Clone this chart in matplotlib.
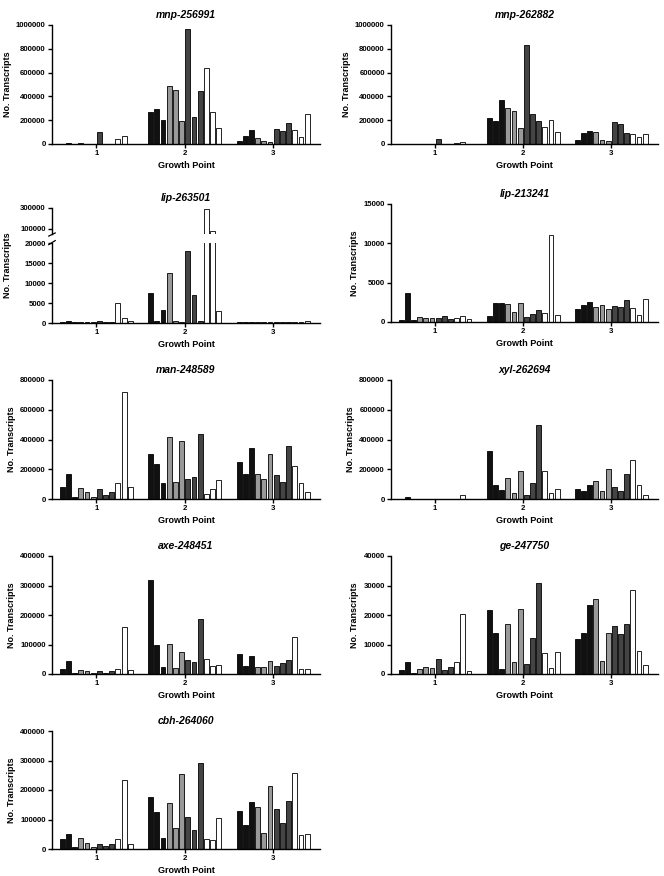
import matplotlib
matplotlib.use("Agg")
import matplotlib.pyplot as plt
import numpy as np

plt.rcParams['font.family'] = ['Liberation Sans', 'DejaVu Sans']
plt.rcParams['font.weight'] = 'bold'

W, H = 664, 876

groups = [1, 2, 3]
bar_colors = ['#111111'] * 3 + ['#999999'] * 3 + ['#444444'] * 3 + ['#ffffff'] * 3

# values: per gene, 3 growth points x 12 bars
mnp_256991 = [
    [2000, 12000, 0, 8000, 0, 3000, 100000, 4000, 0, 45000, 70000, 0],
    [265000, 290000, 200000, 490000, 450000, 195000, 970000, 230000, 445000, 640000, 270000, 135000],
    [22000, 70000, 120000, 50000, 25000, 15000, 130000, 110000, 175000, 120000, 60000, 255000],
]
mnp_262882 = [
    [0, 0, 0, 0, 0, 0, 38000, 0, 0, 8000, 15000, 0],
    [220000, 190000, 370000, 300000, 280000, 135000, 835000, 255000, 195000, 145000, 205000, 100000],
    [35000, 95000, 110000, 105000, 30000, 25000, 185000, 170000, 95000, 80000, 55000, 85000],
]
lip_263501 = [
    [200, 400, 300, 300, 200, 200, 400, 300, 200, 5000, 1300, 400],
    [7500, 400, 3200, 12600, 400, 200, 18000, 7000, 400, 290000, 80000, 3000],
    [200, 300, 300, 200, 200, 200, 200, 200, 300, 200, 200, 400],
]
lip_213241 = [
    [300, 3700, 300, 600, 450, 500, 500, 700, 350, 500, 700, 350],
    [800, 2400, 2400, 2300, 1300, 2400, 600, 1000, 1500, 1200, 11000, 900],
    [1600, 2200, 2600, 1900, 2100, 1700, 2000, 1900, 2800, 1800, 900, 2900],
]
man_248589 = [
    [80000, 165000, 12000, 75000, 48000, 15000, 70000, 25000, 45000, 110000, 720000, 80000],
    [300000, 235000, 110000, 420000, 115000, 390000, 135000, 150000, 440000, 35000, 65000, 130000],
    [250000, 165000, 345000, 165000, 135000, 305000, 160000, 115000, 355000, 220000, 110000, 50000],
]
xyl_262694 = [
    [3000, 12000, 0, 2000, 2000, 0, 0, 0, 0, 3000, 30000, 0],
    [325000, 95000, 60000, 140000, 40000, 190000, 30000, 110000, 495000, 190000, 40000, 70000],
    [70000, 55000, 95000, 120000, 55000, 200000, 80000, 55000, 170000, 265000, 95000, 30000],
]
axe_248451 = [
    [18000, 43000, 3000, 15000, 10000, 3000, 10000, 3000, 10000, 18000, 158000, 15000],
    [320000, 97000, 23000, 102000, 20000, 76000, 47000, 42000, 185000, 50000, 27000, 30000],
    [68000, 28000, 62000, 24000, 24000, 43000, 28000, 36000, 46000, 127000, 18000, 17000],
]
ge_247750 = [
    [1500, 4200, 300, 1700, 2300, 2000, 5000, 1500, 2500, 4000, 20500, 900],
    [21700, 14000, 1700, 16800, 4200, 22000, 3500, 12300, 31000, 7000, 2100, 7500],
    [12000, 13800, 23300, 25300, 4300, 13800, 16200, 13700, 17000, 28500, 7800, 3100],
]
cbh_264060 = [
    [33000, 50000, 7000, 37000, 21000, 6000, 17000, 10000, 16000, 34000, 235000, 17000],
    [177000, 126000, 38000, 157000, 70000, 253000, 110000, 65000, 292000, 33000, 30000, 105000],
    [130000, 82000, 158000, 141000, 55000, 214000, 137000, 88000, 162000, 256000, 48000, 52000],
]

panels = [
    ('mnp-256991', mnp_256991, 1000000, 200000, 0, 0),
    ('mnp-262882', mnp_262882, 1000000, 200000, 0, 1),
    ('lip-213241', lip_213241, 15000, 5000, 1, 1),
    ('man-248589', man_248589, 800000, 200000, 2, 0),
    ('xyl-262694', xyl_262694, 800000, 200000, 2, 1),
    ('axe-248451', axe_248451, 400000, 100000, 3, 0),
    ('ge-247750', ge_247750, 40000, 10000, 3, 1),
    ('cbh-264060', cbh_264060, 400000, 100000, 4, 0),
]

col_x = [(52, 320), (391, 658)]
row_y = [(25, 144), (204, 322), (380, 499), (556, 674), (731, 849)]

step = 0.07
width = 0.055
offsets = (np.arange(12) - 5.5) * step


def px_axes(x0, x1, y0, y1):
    return fig.add_axes([x0 / W, 1 - y1 / H, (x1 - x0) / W, (y1 - y0) / H])


def style(ax):
    for s in ['top', 'right']:
        ax.spines[s].set_visible(False)
    for s in ['left', 'bottom']:
        ax.spines[s].set_linewidth(1.0)
    ax.tick_params(axis='both', length=3, width=1.0, labelsize=5.6, pad=1.5)
    for lab in ax.get_yticklabels() + ax.get_xticklabels():
        lab.set_fontweight('bold')


def draw_bars(ax, data):
    for g, vals in zip(groups, data):
        ax.bar(g + offsets, vals, width=width, color=bar_colors,
               edgecolor='black', linewidth=0.6)
    ax.set_xlim(0.5, 3.53)


fig = plt.figure(figsize=(W / 100, H / 100), dpi=100)

for name, data, ymax, ystep, r, c in panels:
    x0, x1 = col_x[c]
    y0, y1 = row_y[r]
    ax = px_axes(x0, x1, y0, y1)
    draw_bars(ax, data)
    ax.set_ylim(0, ymax)
    ax.set_yticks(np.arange(0, ymax + 1, ystep))
    ax.set_yticklabels([str(int(v)) for v in np.arange(0, ymax + 1, ystep)])
    ax.set_xticks(groups)
    style(ax)
    ax.set_title(name, fontsize=7.5, fontstyle='italic', fontweight='bold', pad=5)
    ax.set_xlabel('Growth Point', fontsize=6.5, fontweight='bold', labelpad=3)
    ax.set_ylabel('No. Transcripts', fontsize=6.5, fontweight='bold', labelpad=3)

# lip-263501 with a broken y axis
x0, x1 = col_x[0]
ax_lo = px_axes(x0, x1, 243, 323)
ax_hi = px_axes(x0, x1, 208, 234)
for ax in (ax_lo, ax_hi):
    draw_bars(ax, lip_263501)
    style(ax)
ax_lo.set_ylim(0, 20000)
ax_lo.set_yticks([0, 5000, 10000, 15000, 20000])
ax_lo.set_yticklabels(['0', '5000', '10000', '15000', '20000'])
ax_lo.set_xticks(groups)
ax_hi.set_ylim(50000, 300000)
ax_hi.set_yticks([100000, 300000])
ax_hi.set_yticklabels(['100000', '300000'])
ax_hi.spines['bottom'].set_visible(False)
ax_hi.set_xticks([])
for lab in ax_lo.get_yticklabels() + ax_lo.get_xticklabels() + ax_hi.get_yticklabels():
    lab.set_fontweight('bold')
ax_hi.set_title('lip-263501', fontsize=7.5, fontstyle='italic', fontweight='bold', pad=5)
ax_lo.set_xlabel('Growth Point', fontsize=6.5, fontweight='bold', labelpad=3)
fig.text(8 / W, 1 - 265 / H, 'No. Transcripts', rotation=90, fontsize=6.5,
         fontweight='bold', ha='center', va='center')
# break marks on the y axis
kw = dict(color='black', clip_on=False, linewidth=0.9)
ax_hi.plot([-0.012, 0.012], [-0.08, 0.04], transform=ax_hi.transAxes, **kw)
ax_lo.plot([-0.012, 0.012], [0.98, 1.03], transform=ax_lo.transAxes, **kw)

fig.savefig('out.png', dpi=100)
